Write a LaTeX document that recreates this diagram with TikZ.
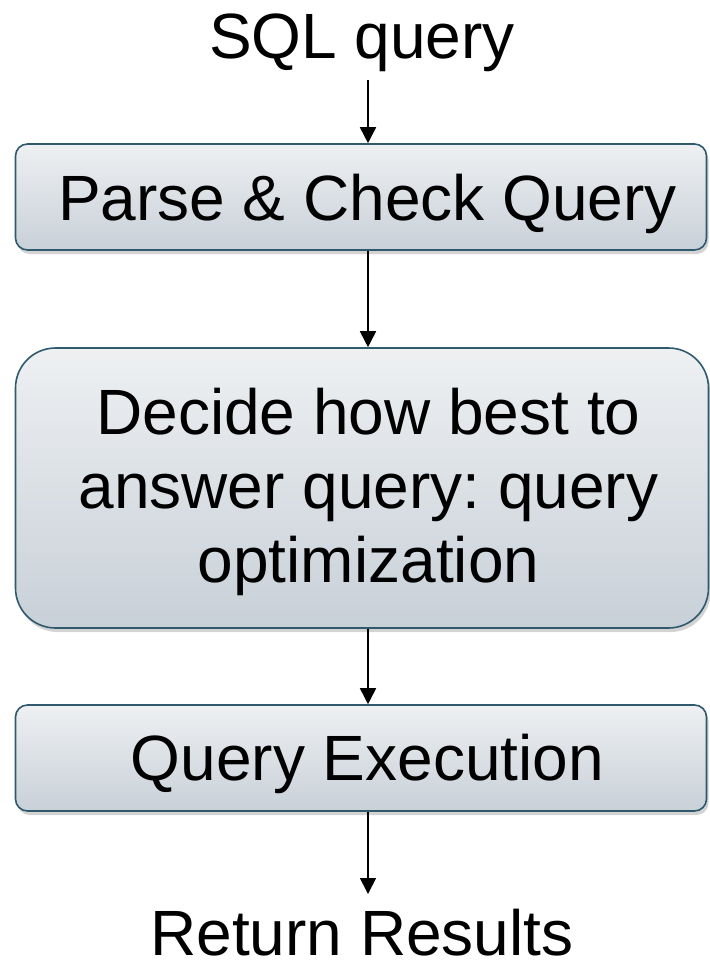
\documentclass[tikz,border=0pt]{standalone}
\usepackage{fontspec}
\setmainfont{Liberation Sans}
\usetikzlibrary{arrows.meta,shadows}
\definecolor{boxtop}{HTML}{EEF0F2}
\definecolor{boxbot}{HTML}{C8D0D8}
\definecolor{boxline}{HTML}{2F5A6E}
\tikzset{
  flowbox/.style={draw=boxline, line width=1.6pt, top color=boxtop, bottom color=boxbot,
    drop shadow={opacity=0.35, shadow xshift=2pt, shadow yshift=-4pt},
    inner sep=0pt, align=center, font=\fontsize{64}{74}\selectfont\frenchspacing},
  plain/.style={inner sep=0pt, font=\fontsize{64}{74}\selectfont},
  flowarrow/.style={line width=1.7pt, -{Triangle[width=16pt,length=16pt]}}
}
\newcommand{\boxline}[2]{\hspace*{13pt}\raisebox{#1}[\height][\depth]{#2}}
\begin{document}
\begin{tikzpicture}[x=1pt,y=-1pt]
\useasboundingbox (0,0) rectangle (709,971);
\node[plain] (sql) at (362,43) {SQL query};
\node[flowbox, rounded corners=12pt, minimum width=691pt, minimum height=106pt] (parse) at (361,197) {\boxline{-7pt}{Parse \& Check Query}};
\node[flowbox, rounded corners=40pt, minimum width=693pt, minimum height=280pt] (decide) at (362,488) {\boxline{-4pt}{Decide how best to}\\\boxline{-4pt}{answer query: query}\\\boxline{-4pt}{optimization}};
\node[flowbox, rounded corners=12pt, minimum width=691pt, minimum height=106pt] (exec) at (361,758) {\boxline{-6pt}{Query Execution}};
\node[plain] (ret) at (362,933) {Return Results};
\coordinate (a1s) at (368,80);
\coordinate (a4e) at (368,894);
\draw[flowarrow] (a1s) -- (a1s |- parse.north);
\draw[flowarrow] (parse.south -| a1s) -- (decide.north -| a1s);
\draw[flowarrow] (decide.south -| a1s) -- (exec.north -| a1s);
\draw[flowarrow] (exec.south -| a1s) -- (a4e);
\end{tikzpicture}
\end{document}
